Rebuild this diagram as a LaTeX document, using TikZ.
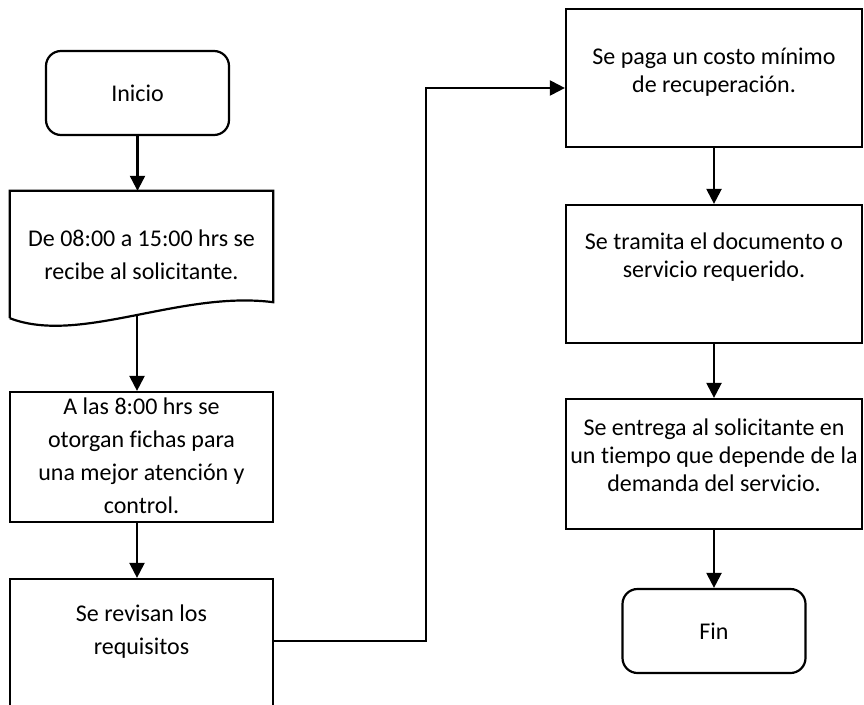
\documentclass[tikz,border=0pt]{standalone}
\usepackage{fontspec}
\setmainfont{Carlito}[Ligatures=NoCommon]
\usetikzlibrary{arrows.meta,calc}
\begin{document}
\begin{tikzpicture}[x=1pt,y=-1pt,
  outline/.style={draw, line width=2.2pt},
  stepbox/.style={outline, inner sep=0pt, minimum width=263pt},
  rightbox/.style={outline, inner sep=0pt, minimum width=296pt},
  terminal/.style={outline, rounded corners=15pt, inner sep=0pt,
    minimum width=183pt, minimum height=84pt,
    font=\fontsize{24}{29}\selectfont},
  ltext/.style={align=center, inner sep=0pt, font=\fontsize{24}{33}\selectfont},
  rtext/.style={align=center, inner sep=0pt, font=\fontsize{24}{28}\selectfont},
  arr/.style={line width=2.2pt, -{Triangle[length=15pt,width=15pt]}},
  link/.style={line width=2pt, -{Triangle[length=15pt,width=15pt]}}]
\useasboundingbox (0,0) rectangle (864,704);
\clip (0,0) rectangle (864,704);

% left column
\node[terminal] (ini) at (137.5,93) {Inicio};

\node[minimum width=263pt, minimum height=127pt, inner sep=0pt] (doc) at (141.5,254.5) {};
\draw[outline, line join=miter]
  (doc.south west) -- (doc.north west) -- (doc.north east)
  -- ($(doc.south east)+(0,-16)$)
  .. controls ($(doc.south west)+(170,-28)$) and ($(doc.south west)+(70,27)$) .. (doc.south west);
\node[ltext] (doctxt) at (doc.center) {De 08:00 a 15:00 hrs se\\recibe al solicitante.};
\coordinate (docbot) at (137,316);

\node[stepbox, minimum height=130pt] (b2) at (141.5,457) {};
\node[ltext] (b2txt) at (141.5,456) {A las 8:00 hrs se\\otorgan fichas para\\una mejor atención y\\control.};

\node[stepbox, minimum height=160pt] (b3) at (141.5,659) {};
\node[ltext] (b3txt) at (141.5,632) {Se revisan los\\requisitos};

% right column
\node[rightbox, minimum height=138pt] (bA) at (714,78) {};
\node[rtext] (bAtxt) at (714,72) {Se paga un costo mínimo\\de recuperación.};

\node[rightbox, minimum height=138pt] (bB) at (714,274) {};
\node[rtext] (bBtxt) at (714,257) {Se tramita el documento o\\servicio requerido.};

\node[rightbox, minimum height=130pt] (bC) at (714,464) {};
\node[rtext] (bCtxt) at (714,455) {Se entrega al solicitante en\\un tiempo que depende de la\\demanda del servicio.};

\node[terminal] (fin) at (714,631) {Fin};

% connectors
\draw[arr] (ini.south) -- (ini.south |- doc.north);
\draw[arr] (docbot) -- (docbot |- b2.north);
\draw[arr] (b2.south -| docbot) -- (b3.north -| docbot);

\coordinate (jn) at (426,641);
\coordinate (jA) at ([yshift=-10pt]bA.west);
\draw[link] (b3.east |- jn) -- (jn) |- (jA);

\draw[arr] (bA.south) -- (bB.north);
\draw[arr] (bB.south) -- (bC.north);
\draw[arr] (bC.south) -- (fin.north);
\end{tikzpicture}
\end{document}
